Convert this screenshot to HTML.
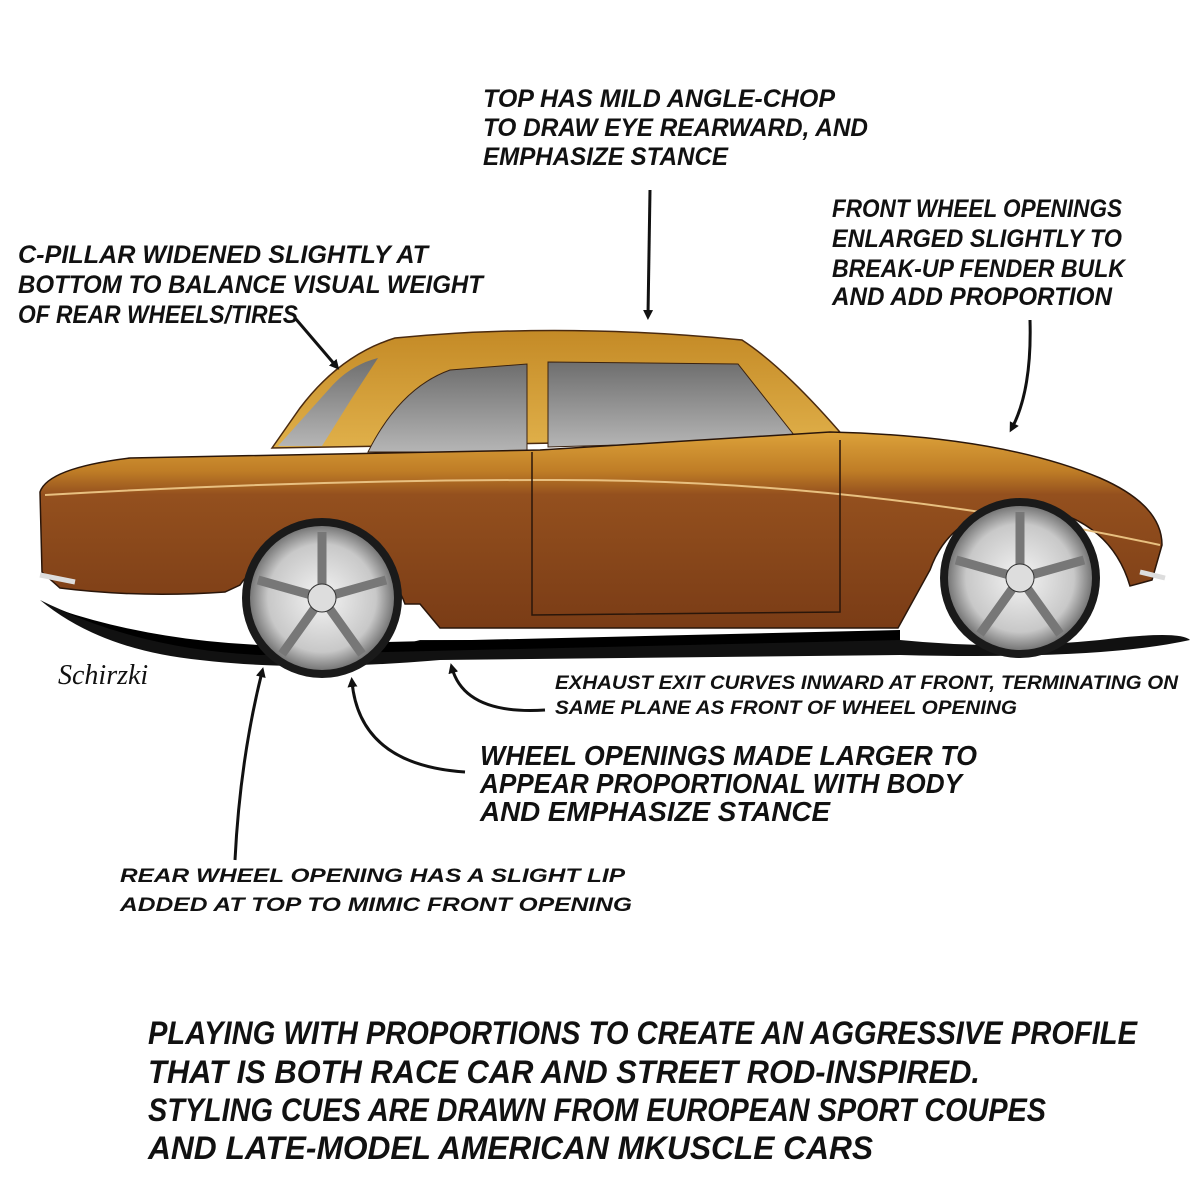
<!DOCTYPE html>
<html><head><meta charset="utf-8"><style>
html,body{margin:0;padding:0;background:#fff;}
svg{display:block;}
text{font-family:"Liberation Sans",sans-serif;font-weight:bold;font-style:italic;fill:#111;}
</style></head><body>
<svg width="1200" height="1200" viewBox="0 0 1200 1200" xmlns="http://www.w3.org/2000/svg">
<defs>
<linearGradient id="body" x1="0" y1="0" x2="0" y2="1">
<stop offset="0" stop-color="#dca23a"/><stop offset="0.2" stop-color="#bf7d26"/><stop offset="0.32" stop-color="#94501e"/><stop offset="1" stop-color="#7a3c16"/>
</linearGradient>
<linearGradient id="roof" x1="0" y1="0" x2="0" y2="1">
<stop offset="0" stop-color="#c48a26"/><stop offset="1" stop-color="#e0b04a"/>
</linearGradient>
<linearGradient id="glass" x1="0" y1="0" x2="0" y2="1">
<stop offset="0" stop-color="#6e6e6e"/><stop offset="1" stop-color="#b5b5b5"/>
</linearGradient>
<radialGradient id="rim" cx="0.5" cy="0.5" r="0.5">
<stop offset="0" stop-color="#f4f4f4"/><stop offset="0.75" stop-color="#c8c8c8"/><stop offset="1" stop-color="#777"/>
</radialGradient>
<marker id="ah" markerWidth="10" markerHeight="10" refX="5" refY="5" orient="auto" markerUnits="userSpaceOnUse" viewBox="0 0 10 10">
<path d="M0,0 L10,5 L0,10 Z" fill="#111"/>
</marker>
</defs>

<path d="M40,600 Q120,640 240,650 Q330,665 420,640 L900,640 Q1000,650 1100,640 Q1180,630 1190,640 Q1100,660 900,655 L440,660 Q300,672 200,660 Q100,650 40,600 Z" fill="#111"/>
<path d="M60,610 Q150,640 260,645 L900,630 L900,640 L260,655 Q150,650 60,610Z" fill="#000"/>

<path d="M272,448 L300,408 Q340,355 395,338 Q560,322 742,340 Q785,368 845,438 Z" fill="url(#roof)" stroke="#4a2a10" stroke-width="1.5"/>
<path d="M278,446 L330,388 Q350,365 378,358 L352,398 L322,446Z" fill="url(#glass)"/>
<path d="M368,452 Q400,388 450,370 L527,364 L527,452Z" fill="url(#glass)" stroke="#3a2210"/>
<path d="M548,362 L738,364 L798,440 L548,447Z" fill="url(#glass)" stroke="#3a2210"/>

<path d="M40,492 Q48,468 130,458 L540,450 L830,432 Q1000,436 1100,478 Q1162,505 1162,545 L1152,580 L1130,586 Q1110,518 1030,506 Q952,508 930,570 L898,628 L440,628 L420,604 L405,604 Q390,560 322,556 Q255,560 240,585 L225,592 Q140,598 60,588 L42,572 Z" fill="url(#body)" stroke="#2a160a" stroke-width="1.5"/>
<path d="M45,495 Q300,480 540,480 Q850,478 1160,545" fill="none" stroke="#e8c080" stroke-width="2"/>
<path d="M532,452 L532,615 L840,612 L840,440" fill="none" stroke="#2a160a" stroke-width="1.5"/>
<path d="M40,575 L75,582 M1140,572 L1165,578" stroke="#ddd" stroke-width="5"/>

<circle cx="322" cy="598" r="80" fill="#1a1a1a"/>
<circle cx="322" cy="598" r="72" fill="url(#rim)"/>
<g stroke="#777" stroke-width="9" fill="none">
<path d="M322,598 L322,532 M322,598 L386,580 M322,598 L362,654 M322,598 L282,654 M322,598 L258,580"/>
</g>
<circle cx="322" cy="598" r="14" fill="#ddd" stroke="#333"/>
<circle cx="1020" cy="578" r="80" fill="#1a1a1a"/>
<circle cx="1020" cy="578" r="72" fill="url(#rim)"/>
<g stroke="#777" stroke-width="9" fill="none">
<path d="M1020,578 L1020,512 M1020,578 L1084,560 M1020,578 L1060,634 M1020,578 L980,634 M1020,578 L956,560"/>
</g>
<circle cx="1020" cy="578" r="14" fill="#ddd" stroke="#333"/>

<g fill="none" stroke="#111" stroke-width="3">
<path d="M650,190 L648,315" marker-end="url(#ah)"/>
<path d="M1030,320 Q1032,390 1012,428" marker-end="url(#ah)"/>
<path d="M295,318 Q318,345 336,366" marker-end="url(#ah)"/>
<path d="M235,860 Q240,760 262,672" marker-end="url(#ah)"/>
<path d="M465,772 Q360,765 352,682" marker-end="url(#ah)"/>
<path d="M545,710 Q465,715 452,668" marker-end="url(#ah)"/>
</g>
<text x="58" y="684" style="font-family:'Liberation Serif',serif;font-size:28px;font-weight:normal">Schirzki</text>

<g font-size="25">
<text x="483" y="107" textLength="352" lengthAdjust="spacingAndGlyphs">TOP HAS MILD ANGLE-CHOP</text>
<text x="483" y="136" textLength="385" lengthAdjust="spacingAndGlyphs">TO DRAW EYE REARWARD, AND</text>
<text x="483" y="165" textLength="245" lengthAdjust="spacingAndGlyphs">EMPHASIZE STANCE</text>
<text x="832" y="217" textLength="290" lengthAdjust="spacingAndGlyphs">FRONT WHEEL OPENINGS</text>
<text x="832" y="247" textLength="290" lengthAdjust="spacingAndGlyphs">ENLARGED SLIGHTLY TO</text>
<text x="832" y="277" textLength="293" lengthAdjust="spacingAndGlyphs">BREAK-UP FENDER BULK</text>
<text x="832" y="305" textLength="280" lengthAdjust="spacingAndGlyphs">AND ADD PROPORTION</text>
<text x="18" y="263" textLength="410" lengthAdjust="spacingAndGlyphs">C-PILLAR WIDENED SLIGHTLY AT</text>
<text x="18" y="293" textLength="465" lengthAdjust="spacingAndGlyphs">BOTTOM TO BALANCE VISUAL WEIGHT</text>
<text x="18" y="323" textLength="280" lengthAdjust="spacingAndGlyphs">OF REAR WHEELS/TIRES</text>
</g>
<g font-size="19">
<text x="555" y="689" textLength="623" lengthAdjust="spacingAndGlyphs">EXHAUST EXIT CURVES INWARD AT FRONT, TERMINATING ON</text>
<text x="555" y="714" textLength="462" lengthAdjust="spacingAndGlyphs">SAME PLANE AS FRONT OF WHEEL OPENING</text>
<text x="120" y="882" textLength="505" lengthAdjust="spacingAndGlyphs">REAR WHEEL OPENING HAS A SLIGHT LIP</text>
<text x="120" y="911" textLength="512" lengthAdjust="spacingAndGlyphs">ADDED AT TOP TO MIMIC FRONT OPENING</text>
</g>
<g font-size="28">
<text x="480" y="765" textLength="497" lengthAdjust="spacingAndGlyphs">WHEEL OPENINGS MADE LARGER TO</text>
<text x="480" y="793" textLength="482" lengthAdjust="spacingAndGlyphs">APPEAR PROPORTIONAL WITH BODY</text>
<text x="480" y="821" textLength="350" lengthAdjust="spacingAndGlyphs">AND EMPHASIZE STANCE</text>
</g>
<g font-size="32">
<text x="148" y="1044" textLength="989" lengthAdjust="spacingAndGlyphs">PLAYING WITH PROPORTIONS TO CREATE AN AGGRESSIVE PROFILE</text>
<text x="148" y="1083" textLength="832" lengthAdjust="spacingAndGlyphs">THAT IS BOTH RACE CAR AND STREET ROD-INSPIRED.</text>
<text x="148" y="1121" textLength="898" lengthAdjust="spacingAndGlyphs">STYLING CUES ARE DRAWN FROM EUROPEAN SPORT COUPES</text>
<text x="148" y="1159" textLength="725" lengthAdjust="spacingAndGlyphs">AND LATE-MODEL AMERICAN MKUSCLE CARS</text>
</g>
</svg>
</body></html>
